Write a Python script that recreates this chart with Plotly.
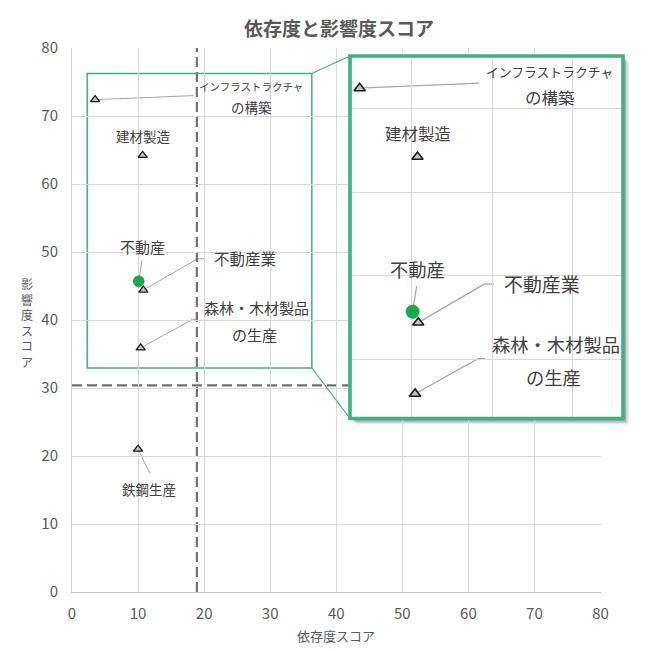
import plotly.graph_objects as go

# ---------------- data ----------------
categories = ["インフラストラクチャの構築", "建材製造", "不動産業", "森林・木材製品の生産", "鉄鋼生産"]
dependency = [3.5, 10.7, 10.8, 10.4, 10.0]
impact = [72.4, 64.2, 44.4, 35.9, 21.0]

highlight_names = ["不動産"]
highlight_dependency = [10.1]
highlight_impact = [45.7]

dependency_threshold = 18.9
impact_threshold = 30.4

x_ticks = [0, 10, 20, 30, 40, 50, 60, 70, 80]
y_ticks = [0, 10, 20, 30, 40, 50, 60, 70, 80]

zoom_x = [2.3, 36.3]
zoom_y = [32.95, 76.25]

title_text = "依存度と影響度スコア"
x_title = "依存度スコア"
y_title = "影響度スコア"

# ---------------- label layout (data coords) ----------------
label_layout = {
    "インフラストラクチャの構築": dict(lines=[("インフラストラクチャ", 27.1, 74.4, 10.5), ("の構築", 27.1, 71.3, 13.5)],
                             leader=[(18.4, 73.0)]),
    "建材製造": dict(lines=[("建材製造", 10.8, 67.0, 13.5)], leader=[]),
    "不動産": dict(lines=[("不動産", 10.7, 50.8, 15)], leader=[(10.6, 48.8)]),
    "不動産業": dict(lines=[("不動産業", 26.2, 49.1, 15.5)], leader=[(19.0, 49.0), (20.2, 49.0)]),
    "森林・木材製品の生産": dict(lines=[("森林・木材製品", 27.9, 41.8, 15), ("の生産", 27.6, 37.9, 15)],
                        leader=[(18.25, 40.1), (19.1, 40.1)]),
    "鉄鋼生産": dict(lines=[("鉄鋼生産", 11.7, 15.1, 13.5)], leader=[(11.75, 17.5)]),
}

# ---------------- style ----------------
FONT = "Noto Sans CJK JP"
TEXT = "#404040"
AXIS_TEXT = "#595959"
GRID = "#D9D9D9"
GREEN = "#41B181"
DOT_GREEN = "#17A94D"
DASH = "#707070"
LEADER = "#A6A6A6"

OFF = 8  # page body margin offset
W, H = 650 - OFF, 651 - OFF
ML, MR, MT, MB = 72 - OFF, 18, 48 - OFF, 59
PW, PH = W - ML - MR, H - MT - MB


def px_x(px):  # reference pixel -> paper x
    return (px - OFF - ML) / PW


def px_y(py):  # reference pixel -> paper y
    return (H - MB - (py - OFF)) / PH


main_dom_x = [0, 530.4 / PW]
main_dom_y = [0, 1]
inset_dom_x = [px_x(351), px_x(625)]
inset_dom_y = [px_y(418.5), px_y(56)]
INSET_SCALE = 1.22

fig = go.Figure()

all_x = dependency + highlight_dependency
all_y = impact + highlight_impact
all_names = categories + highlight_names


def add_points(xa, ya, scale):
    fig.add_trace(go.Scatter(
        x=dependency, y=impact, mode="markers", xaxis=xa, yaxis=ya,
        marker=dict(symbol="triangle-up", size=8 * scale, color="#C4C4C4",
                    line=dict(color="#1A1A1A", width=1.3 * scale)),
        hoverinfo="text", text=categories, showlegend=False))
    fig.add_trace(go.Scatter(
        x=highlight_dependency, y=highlight_impact, mode="markers", xaxis=xa, yaxis=ya,
        marker=dict(symbol="circle", size=11 * scale, color=DOT_GREEN,
                    line=dict(color="#128A3D", width=0.5)),
        hoverinfo="text", text=highlight_names, showlegend=False))


add_points("x", "y", 1.0)
add_points("x2", "y2", INSET_SCALE)

shapes = []
annotations = []


def in_zoom(x, y):
    return zoom_x[0] <= x <= zoom_x[1] and zoom_y[0] <= y <= zoom_y[1]


def add_labels(xref, yref, scale, inset):
    for name, px, py in zip(all_names, all_x, all_y):
        lay = label_layout[name]
        pts = [(px, py)] + lay["leader"]
        if len(pts) > 1 and (not inset or in_zoom(px, py)):
            path = "M %f %f " % pts[0] + " ".join("L %f %f" % p for p in pts[1:])
            shapes.append(dict(type="path", path=path, xref=xref, yref=yref, layer="below",
                               line=dict(color=LEADER, width=1.0 * scale)))
        for txt, tx, ty, fs in lay["lines"]:
            if inset and not in_zoom(tx, ty):
                continue
            annotations.append(dict(text=txt, x=tx, y=ty, xref=xref, yref=yref,
                                    showarrow=False, xanchor="center", yanchor="middle",
                                    font=dict(family=FONT, size=fs * scale, color=TEXT)))


add_labels("x", "y", 1.0, False)
add_labels("x2", "y2", INSET_SCALE, True)

# threshold lines (main)
shapes.append(dict(type="line", xref="x", yref="y", x0=dependency_threshold, x1=dependency_threshold,
                   y0=y_ticks[0], y1=y_ticks[-1], layer="below",
                   line=dict(color=DASH, width=2.2, dash="10px,5px")))
shapes.append(dict(type="line", xref="x", yref="y", y0=impact_threshold, y1=impact_threshold,
                   x0=x_ticks[0], x1=x_ticks[-1], layer="below",
                   line=dict(color=DASH, width=2.2, dash="10px,5px")))
# threshold line (inset)
shapes.append(dict(type="line", xref="x2", yref="y2 domain", x0=dependency_threshold, x1=dependency_threshold,
                   y0=0, y1=1, layer="below",
                   line=dict(color=DASH, width=2.7, dash="12px,6px")))

# zoom rectangle in main
shapes.append(dict(type="rect", xref="x", yref="y", x0=zoom_x[0], x1=zoom_x[1], y0=zoom_y[0], y1=zoom_y[1],
                   layer="below", line=dict(color=GREEN, width=1.5)))


def to_paper(x, y):
    px = main_dom_x[0] + (x - x_ticks[0]) / (x_ticks[-1] - x_ticks[0]) * (main_dom_x[1] - main_dom_x[0])
    py = main_dom_y[0] + (y - y_ticks[0]) / (y_ticks[-1] - y_ticks[0]) * (main_dom_y[1] - main_dom_y[0])
    return px, py


# connectors
for zy, iy in [(zoom_y[1], inset_dom_y[1]), (zoom_y[0], inset_dom_y[0])]:
    px, py = to_paper(zoom_x[1], zy)
    shapes.append(dict(type="line", xref="paper", yref="paper", x0=px, y0=py, x1=inset_dom_x[0], y1=iy,
                       layer="above", line=dict(color=GREEN, width=1.1)))

# shadow of inset
for off, alpha in [(6, 0.07), (4.5, 0.12), (3, 0.18)]:
    shapes.append(dict(type="rect", xref="paper", yref="paper",
                       x0=inset_dom_x[0] + off / PW, x1=inset_dom_x[1] + off / PW,
                       y0=inset_dom_y[0] - off / PH, y1=inset_dom_y[1] - off / PH,
                       layer="below", line=dict(width=0), fillcolor="rgba(0,0,0,%.2f)" % alpha))

# inset border
shapes.append(dict(type="rect", xref="paper", yref="paper",
                   x0=inset_dom_x[0], x1=inset_dom_x[1], y0=inset_dom_y[0], y1=inset_dom_y[1],
                   layer="above", line=dict(color=GREEN, width=3.6)))

# axis titles
annotations.append(dict(text=x_title, xref="paper", yref="paper",
                        x=(main_dom_x[0] + main_dom_x[1]) / 2, y=px_y(635),
                        showarrow=False, xanchor="center", yanchor="middle",
                        font=dict(family=FONT, size=13, color=AXIS_TEXT)))
annotations.append(dict(text="<br>".join(y_title), xref="paper", yref="paper",
                        x=px_x(27), y=px_y(322),
                        showarrow=False, xanchor="center", yanchor="middle",
                        font=dict(family=FONT, size=12, color=AXIS_TEXT)))

fig.update_layout(
    width=W, height=H,
    margin=dict(l=ML, r=MR, t=MT, b=MB),
    paper_bgcolor="white", plot_bgcolor="white",
    showlegend=False,
    title=dict(text="<b>%s</b>" % title_text, xref="container", yref="container",
               x=(339 - OFF) / W, y=1 - (29 - OFF) / H, xanchor="center", yanchor="middle",
               font=dict(family=FONT, size=19, color=AXIS_TEXT)),
    xaxis=dict(domain=main_dom_x, range=[x_ticks[0], x_ticks[-1]], tickvals=x_ticks,
               showgrid=True, gridcolor=GRID, gridwidth=1, zeroline=False,
               showline=True, linecolor="#C8C8C8", linewidth=1, ticks="",
               ticklabelstandoff=8,
               tickfont=dict(family=FONT, size=15, color=AXIS_TEXT), fixedrange=True),
    yaxis=dict(domain=main_dom_y, range=[y_ticks[0], y_ticks[-1]], tickvals=y_ticks,
               showgrid=True, gridcolor=GRID, gridwidth=1, zeroline=False,
               showline=True, linecolor="#D0D0D0", linewidth=1, ticks="",
               ticklabelstandoff=10,
               tickfont=dict(family=FONT, size=15, color=AXIS_TEXT), fixedrange=True),
    xaxis2=dict(domain=inset_dom_x, range=zoom_x, anchor="y2", dtick=10, tick0=0,
                showgrid=True, gridcolor=GRID, gridwidth=1, zeroline=False,
                showline=False, showticklabels=False, ticks="", fixedrange=True),
    yaxis2=dict(domain=inset_dom_y, range=zoom_y, anchor="x2", dtick=10, tick0=0,
                showgrid=True, gridcolor=GRID, gridwidth=1, zeroline=False,
                showline=False, showticklabels=False, ticks="", fixedrange=True),
    shapes=shapes,
    annotations=annotations,
)

fig.write_html("out.html")
